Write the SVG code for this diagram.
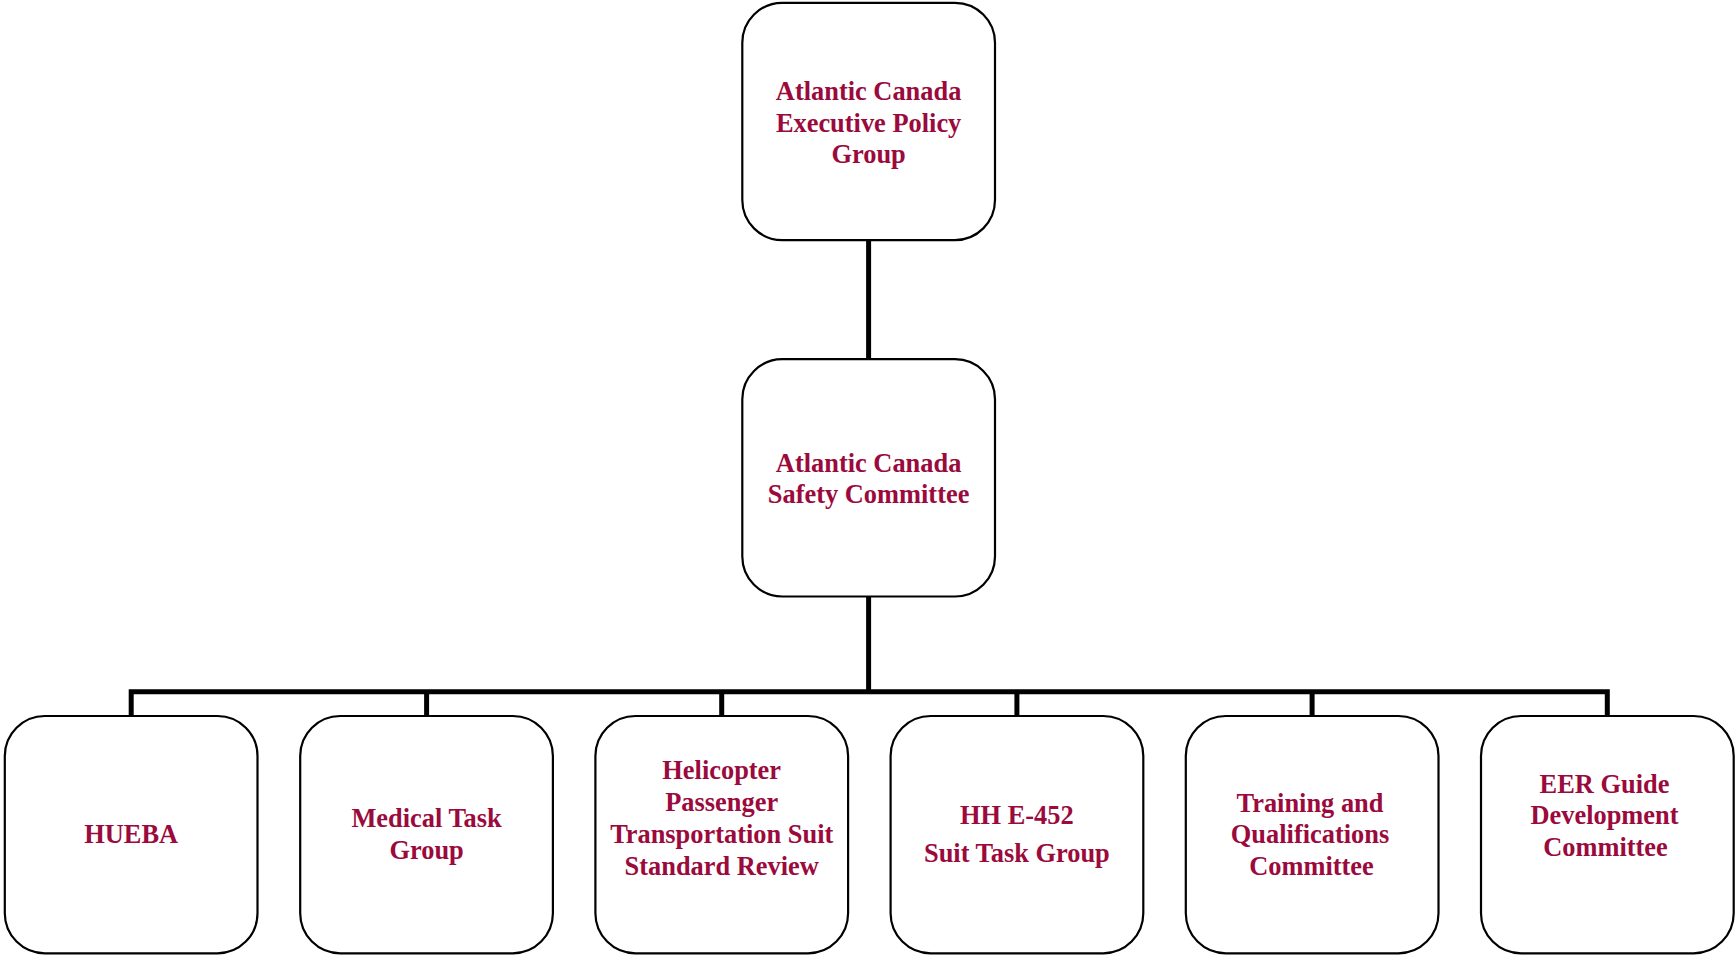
<svg xmlns="http://www.w3.org/2000/svg" width="1735" height="955" viewBox="0 0 1735 955">
<style>
.box{fill:#fff;stroke:#000;stroke-width:2.2}
.lbl{font-family:"Liberation Serif","Times New Roman",serif;font-weight:bold;font-size:26.4px;fill:#9b0a3c;text-anchor:middle}
.con{fill:none;stroke:#000;stroke-width:5;stroke-linecap:butt}
</style>
<rect width="1735" height="955" fill="#fff"/>
<g id="connectors">
<line class="con" x1="868.6" y1="240" x2="868.6" y2="359"/>
<line class="con" x1="868.6" y1="596.7" x2="868.6" y2="691.7"/>
<path class="con" d="M131.2 716V691.7H1607.3V716"/>
<line class="con" x1="426.6" y1="691.7" x2="426.6" y2="716"/>
<line class="con" x1="721.7" y1="691.7" x2="721.7" y2="716"/>
<line class="con" x1="1016.9" y1="691.7" x2="1016.9" y2="716"/>
<line class="con" x1="1312.1" y1="691.7" x2="1312.1" y2="716"/>
</g>
<g id="n-exec">
<rect class="box" x="742.3" y="2.8" width="252.7" height="237.3" rx="40"/>
<text class="lbl" x="868.6" y="100">Atlantic Canada</text>
<text class="lbl" x="868.6" y="131.7">Executive Policy</text>
<text class="lbl" x="868.6" y="163.3">Group</text>
</g>
<g id="n-safety">
<rect class="box" x="742.3" y="359.2" width="252.7" height="237.3" rx="40"/>
<text class="lbl" x="868.6" y="471.7">Atlantic Canada</text>
<text class="lbl" x="868.6" y="503.3">Safety Committee</text>
</g>
<g id="n-hueba">
<rect class="box" x="4.8" y="716" width="252.7" height="237.3" rx="40"/>
<text class="lbl" x="131.2" y="843.3">HUEBA</text>
</g>
<g id="n-medical">
<rect class="box" x="300.2" y="716" width="252.7" height="237.3" rx="40"/>
<text class="lbl" x="426.6" y="826.7">Medical Task</text>
<text class="lbl" x="426.6" y="859">Group</text>
</g>
<g id="n-helicopter">
<rect class="box" x="595.4" y="716" width="252.7" height="237.3" rx="40"/>
<text class="lbl" x="721.7" y="779.3">Helicopter</text>
<text class="lbl" x="721.7" y="811">Passenger</text>
<text class="lbl" x="721.7" y="843.3">Transportation Suit</text>
<text class="lbl" x="721.7" y="875">Standard Review</text>
</g>
<g id="n-hh">
<rect class="box" x="890.6" y="716" width="252.7" height="237.3" rx="40"/>
<text class="lbl" x="1016.9" y="824">HH E-452</text>
<text class="lbl" x="1016.9" y="861.7">Suit Task Group</text>
</g>
<g id="n-training">
<rect class="box" x="1185.8" y="716" width="252.7" height="237.3" rx="40"/>
<text class="lbl" x="1310" y="811.7">Training and</text>
<text class="lbl" x="1310" y="843.3">Qualifications</text>
<text class="lbl" x="1311.5" y="875">Committee</text>
</g>
<g id="n-eer">
<rect class="box" x="1481" y="716" width="252.7" height="237.3" rx="40"/>
<text class="lbl" x="1604.5" y="792.7">EER Guide</text>
<text class="lbl" x="1604.5" y="824.3">Development</text>
<text class="lbl" x="1605.5" y="856">Committee</text>
</g>
</svg>
